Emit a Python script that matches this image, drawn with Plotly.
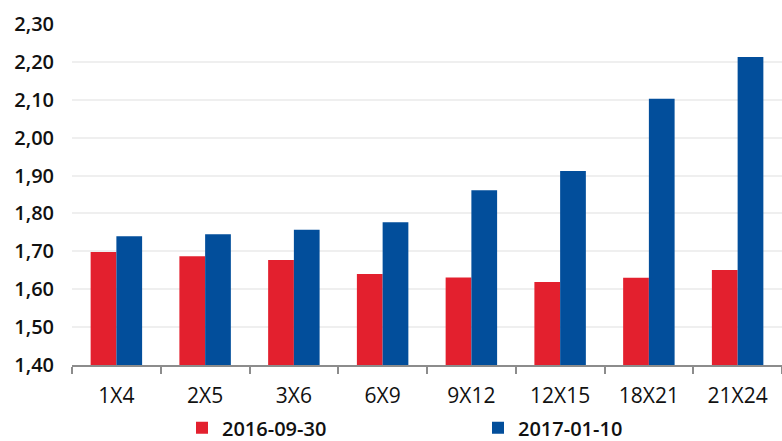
import plotly.graph_objects as go

categories = ["1X4", "2X5", "3X6", "6X9", "9X12", "12X15", "18X21", "21X24"]
series_2016 = [1.698, 1.687, 1.677, 1.640, 1.631, 1.619, 1.630, 1.651]
series_2017 = [1.740, 1.745, 1.757, 1.777, 1.861, 1.912, 2.103, 2.213]
y_ticks = [1.4, 1.5, 1.6, 1.7, 1.8, 1.9, 2.0, 2.1, 2.2, 2.3]

RED = "#E3202E"
BLUE = "#024E9B"

fig = go.Figure()
fig.add_trace(go.Bar(x=categories, y=series_2016, name="2016-09-30",
                     marker=dict(color=RED, line=dict(width=0)), legend="legend"))
fig.add_trace(go.Bar(x=categories, y=series_2017, name="2017-01-10",
                     marker=dict(color=BLUE, line=dict(width=0)), legend="legend2"))

legend_common = dict(orientation="h", xanchor="left", xref="container",
                     y=0.03, yanchor="middle", yref="container",
                     font=dict(size=20, weight=600, color="#111111"),
                     itemwidth=30)

fig.update_layout(
    width=782, height=441,
    margin=dict(l=72, r=0, t=24, b=76),
    paper_bgcolor="white", plot_bgcolor="white",
    barmode="group", bargap=0.42, bargroupgap=0,
    separators=",.",
    font=dict(family="Open Sans, Lato, sans-serif", color="#111111"),
    showlegend=True,
    legend=dict(x=182 / 782, **legend_common),
    legend2=dict(x=478 / 782, **legend_common),
)
fig.update_yaxes(range=[1.4, 2.3], tickvals=y_ticks, tickformat=".2f",
                 showgrid=True, gridcolor="#EFEFEF", gridwidth=1.5,
                 zeroline=False, showline=False, ticks="",
                 ticklabelstandoff=17,
                 tickfont=dict(size=20, weight=600, color="#111111"))
fig.update_xaxes(showline=True, linecolor="#8C8C8C", linewidth=2,
                 ticks="outside", tickson="boundaries", ticklen=7,
                 tickcolor="#8C8C8C", tickwidth=2,
                 ticklabelstandoff=11,
                 tickfont=dict(size=21, color="#111111"))

fig.write_html("out.html")
